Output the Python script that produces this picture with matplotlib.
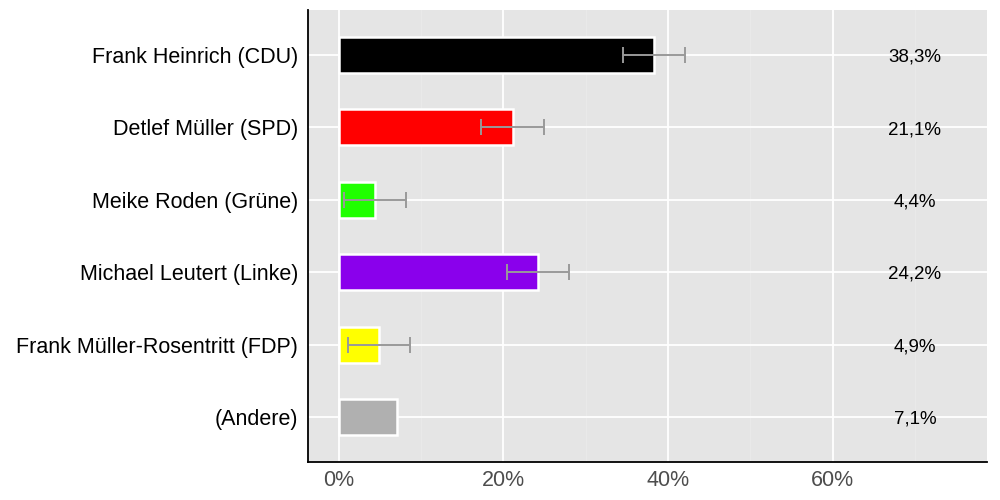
import matplotlib
matplotlib.use("Agg")
import matplotlib.pyplot as plt
import numpy as np

candidates = ["Frank Heinrich (CDU)", "Detlef Müller (SPD)", "Meike Roden (Grüne)",
              "Michael Leutert (Linke)", "Frank Müller-Rosentritt (FDP)", "(Andere)"]
values = [38.3, 21.1, 4.4, 24.2, 4.9, 7.1]
errors = [3.8, 3.8, 3.8, 3.8, 3.8, None]
labels = ["38,3%", "21,1%", "4,4%", "24,2%", "4,9%", "7,1%"]
colors = ["#000000", "#ff0000", "#1fff00", "#8a00ec", "#ffff00", "#b0b0b0"]
xticks = [0, 20, 40, 60]
xticklabels = ["0%", "20%", "40%", "60%"]

plt.rcParams['font.family'] = ['Liberation Sans', 'DejaVu Sans']

fig = plt.figure(figsize=(10, 5), dpi=100)
ax = fig.add_axes([0.308, 0.076, 0.679, 0.904])
ax.set_facecolor("#e5e5e5")

y = np.arange(len(candidates))
ax.barh(y, values, height=0.5, color=colors, edgecolor="white", linewidth=1.8, zorder=3)
for yi, v, e in zip(y, values, errors):
    if e is not None:
        ax.errorbar(v, yi, xerr=e, fmt="none", ecolor="#999999", elinewidth=1.4,
                    capsize=6, capthick=1.4, zorder=4)
for yi, t in zip(y, labels):
    ax.text(70, yi + 0.03, t, ha="center", va="center", fontsize=13.5, color="black", zorder=5)

ax.set_xlim(-3.75, 78.75)
ax.set_ylim(len(candidates) - 1 + 0.62, -0.62)
ax.set_yticks(y)
ax.set_yticklabels(candidates, fontsize=15.5, color="black")
ax.set_xticks(xticks)
ax.set_xticklabels(xticklabels, fontsize=15.5, color="#4d4d4d")
ax.set_xticks([10, 30, 50, 70], minor=True)
ax.grid(True, which="major", color="white", linewidth=1.3, zorder=0)
ax.grid(True, which="minor", axis="x", color="#e9e9e9", linewidth=0.8, zorder=0)
ax.set_axisbelow(True)
ax.tick_params(axis="both", which="both", length=0)
ax.tick_params(axis="y", pad=7)
ax.tick_params(axis="x", pad=6)
for s in ["top", "right"]:
    ax.spines[s].set_visible(False)
for s in ["left", "bottom"]:
    ax.spines[s].set_color("black")
    ax.spines[s].set_linewidth(1.3)

fig.savefig("out.png", dpi=100, facecolor="white")
